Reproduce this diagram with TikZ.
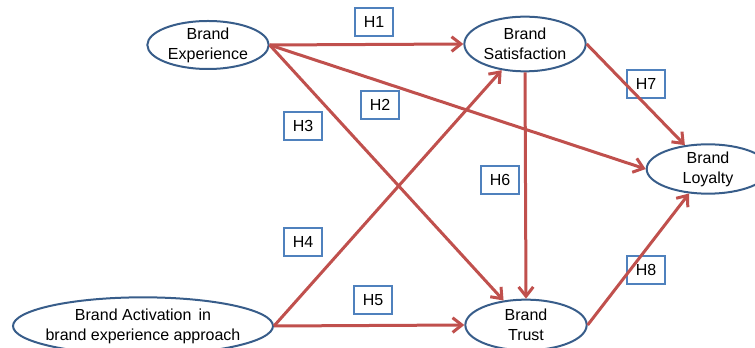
\documentclass[tikz,border=0pt]{standalone}
\usepackage{fontspec}
\setmainfont{Liberation Sans}
\usetikzlibrary{shapes.geometric}
\usetikzlibrary{arrows.meta}
\definecolor{ellblue}{RGB}{56,93,138}
\definecolor{arrred}{RGB}{192,80,77}
\definecolor{boxblue}{RGB}{79,129,189}
\tikzset{
  construct/.style= {draw=ellblue, ellipse, line width=1.5pt, inner xsep=0, inner ysep=-3pt,
    align=center, font=\fontsize{12}{15}\selectfont},
  hyp/.style= {draw=boxblue, line width=1.5pt, inner sep=0, minimum width=29pt,
    minimum height=21pt, font=\fontsize{12}{14}\selectfont},
  path/.style= {draw=arrred, line width=2.25pt, -{Straight Barb[length=7pt, width=11pt]}},
}

\begin{document}
\begin{tikzpicture}[x=0.75pt, y=-0.75pt]
  \useasboundingbox (0,0) rectangle (755,348);
  \node [construct, minimum width=91pt, minimum height=36pt] (exp) at (208,45) {Brand\\Experience} ;
  \node [construct, minimum width=91pt, minimum height=41pt] (sat) at (525,44) {Brand\\Satisfaction} ;
  \node [construct, minimum width=92pt, minimum height=37pt] (loy) at (708,169) {Brand\\Loyalty} ;
  \node [construct, minimum width=91pt, minimum height=38pt] (trust) at (526,325) {Brand\\Trust} ;
  \node [construct, inner xsep=-6pt, minimum width=195pt, minimum height=43pt] (act) at (143,326)
    {Brand Activation\, in\\brand experience approach} ;

  \node [hyp] (h1) at (374,22) {H1} ;
  \node [hyp] (h2) at (380,105) {H2} ;
  \node [hyp] (h3) at (303,126) {H3} ;
  \node [hyp] (h4) at (303,242) {H4} ;
  \node [hyp] (h5) at (373,300) {H5} ;
  \node [hyp] (h6) at (500,180) {H6} ;
  \node [hyp] (h7) at (646,84) {H7} ;
  \node [hyp] (h8) at (646,270) {H8} ;

  \draw [path] (exp.east) -- (sat.west) ;
  \draw [path] (exp.east) -- (loy.west) ;
  \draw [path] (exp.east) -- (trust) ;
  \draw [path] (act.east) -- (sat) ;
  \draw [path] (act.east) -- (trust.west) ;
  \draw [path] (sat.south) -- (trust.north) ;
  \draw [path] (sat.east) -- (loy) ;
  \draw [path] (trust.east) -- (loy) ;
\end{tikzpicture}
\end{document}
